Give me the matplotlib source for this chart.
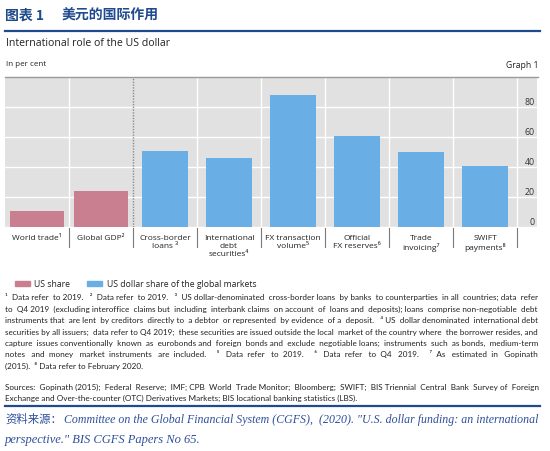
import matplotlib
matplotlib.use('Agg')
import matplotlib.pyplot as plt
from matplotlib.patches import Rectangle
from matplotlib.lines import Line2D
from matplotlib.transforms import blended_transform_factory

# -------- data ---------------------------------------------------
categories = ['World trade\u00b9', 'Global GDP\u00b2', 'Cross-border\nloans \u00b3',
              'International\ndebt\nsecurities\u2074', 'FX transaction\nvolume\u2075',
              'Official\nFX reserves\u2076', 'Trade\ninvoicing\u2077', 'SWIFT\npayments\u2078']
us_share = [11, 24]                               # World trade, Global GDP
usd_share = [51, 46, 88, 61, 50, 41]              # the six market categories
y_ticks = [0, 20, 40, 60, 80]

footnotes = [
    '\u00b9 Data refer to 2019.  \u00b2 Data refer to 2019.  \u00b3 US dollar-denominated cross-border loans by banks to counterparties in all countries; data refer',
    'to Q4 2019 (excluding interoffice claims but including interbank claims on account of loans and deposits); loans comprise non-negotiable debt',
    'instruments that are lent by creditors directly to a debtor or represented by evidence of a deposit.  \u2074 US dollar denominated international debt',
    'securities by all issuers; data refer to Q4 2019; these securities are issued outside the local market of the country where the borrower resides, and',
    'capture issues conventionally known as eurobonds and foreign bonds and exclude negotiable loans; instruments such as bonds, medium-term',
    'notes and money market instruments are included.  \u2075 Data refer to 2019.  \u2076 Data refer to Q4 2019.  \u2077 As estimated in Gopinath',
    '(2015).  \u2078 Data refer to February 2020.',
]
sources = [
    'Sources: Gopinath (2015); Federal Reserve; IMF; CPB World Trade Monitor; Bloomberg; SWIFT; BIS Triennial Central Bank Survey of Foreign',
    'Exchange and Over-the-counter (OTC) Derivatives Markets; BIS locational banking statistics (LBS).',
]
ref_line1 = 'Committee on the Global Financial System (CGFS), (2020). "U.S. dollar funding: an international'
ref_line2 = 'perspective." BIS CGFS Papers No 65.'

# colours
pink = '#c97f8f'
blue = '#6aaee6'
navy = '#1f4a8e'
ref_blue = '#2d4f9c'
chart_font = ['Open Sans', 'DejaVu Sans']
note_font = ['Lato', 'DejaVu Sans']

W, H = 550, 452
fig = plt.figure(figsize=(W / 100, H / 100), dpi=100)
fig.patch.set_facecolor('white')


def fx(px):
    return px / W


def fy(px):
    return 1 - px / H


def hline(y, x0, x1, color, lw):
    fig.add_artist(Line2D([fx(x0), fx(x1)], [fy(y), fy(y)], color=color, lw=lw,
                          transform=fig.transFigure))


renderer = fig.canvas.get_renderer()


def width_of(s, **kw):
    t = fig.text(0, 0, s, **kw)
    w = t.get_window_extent(renderer).width
    t.remove()
    return w


def justify(line, y, x0, x1, size, **kw):
    # pad the gaps of one line with extra spaces so it roughly fills x0..x1
    avail = x1 - x0
    natural = width_of(line, fontsize=size, **kw)
    if natural > avail:
        size *= avail / natural * 0.995
        natural = width_of(line, fontsize=size, **kw)
    sp = width_of('a a', fontsize=size, **kw) - width_of('aa', fontsize=size, **kw)
    parts = line.split(' ')
    n_gaps = len(parts) - 1
    n_add = int(round((avail - natural) / sp))
    out = parts[0]
    done = 0
    for i in range(1, len(parts)):
        want = int(round(n_add * i / n_gaps))
        out += ' ' * (1 + want - done) + parts[i]
        done = want
    fig.text(fx(x0), fy(y), out, va='baseline', ha='left', fontsize=size, **kw)


# -------- header -------------------------------------------------
fig.text(fx(5), fy(16), '图表 1', fontsize=10, fontweight='bold', color=navy,
         family=['Noto Sans CJK SC', 'DejaVu Sans'], va='center')
fig.text(fx(62), fy(16), '美元的国际作用', fontsize=10, fontweight='bold', color=navy,
         family=['Noto Sans CJK SC', 'DejaVu Sans'], va='center')
hline(32.3, 5, 540, navy, 1.6)

fig.text(fx(6), fy(44), 'International role of the US dollar', fontsize=7.6,
         color='#222222', family=chart_font, va='center')
fig.text(fx(6), fy(65), 'In per cent', fontsize=5.8, color='#222222', family=chart_font, va='center')
fig.text(fx(538), fy(65), 'Graph 1', fontsize=6.2, color='#222222', family=chart_font,
         va='center', ha='right')
hline(77.8, 5, 538, '#9a9a9a', 1.0)

# -------- chart --------------------------------------------------
ax = fig.add_axes([fx(5), fy(228.3), 532 / W, 150 / H])
ax.set_facecolor('#e1e1e1')
for s in ax.spines.values():
    s.set_visible(False)

ax.bar(range(len(us_share)), us_share, width=0.84, color=pink, zorder=3)
ax.bar(range(len(us_share), len(categories)), usd_share, width=0.72, color=blue, zorder=3)

ax.set_xlim(-0.5, 7.8125)
ax.set_ylim(0, 100)
ax.set_yticks(y_ticks)
ax.set_xticks([])
ax.tick_params(left=False, right=False, labelleft=False, labelright=False)
ax.grid(axis='y', color='white', lw=1.0, zorder=1)

for k in range(len(categories)):
    sep = k + 0.5
    if k == 1:
        ax.axvline(sep, color='#8a8a8a', lw=1.0, ls=(0, (1, 1)), zorder=2)
    else:
        ax.axvline(sep, color='white', lw=1.0, zorder=1)
    # small separator below the axis
    ax.plot([sep, sep], [-0.005, -0.133], color='#7a7a7a', lw=0.8, clip_on=False,
            transform=blended_transform_factory(ax.transData, ax.transAxes))

ytr = blended_transform_factory(ax.transAxes, ax.transData)
for v in y_ticks:
    ax.text(0.996, v + 3.7, str(v), transform=ytr, ha='right', va='center',
            fontsize=6.3, color='#333333', family=chart_font)

xtr = blended_transform_factory(ax.transData, ax.transAxes)
for i, lab in enumerate(categories):
    ax.text(i, -0.045, lab, transform=xtr, ha='center', va='top', multialignment='center',
            fontsize=6, linespacing=1.15, color='#222222', family=chart_font)

# -------- legend -------------------------------------------------
fig.add_artist(Rectangle((fx(15), fy(287)), 15 / W, 5 / H, color=pink, transform=fig.transFigure))
fig.text(fx(34), fy(284.5), 'US share', fontsize=6.2, color='#222222', family=chart_font, va='center')
fig.add_artist(Rectangle((fx(87), fy(287)), 15 / W, 5 / H, color=blue, transform=fig.transFigure))
fig.text(fx(107), fy(284.5), 'US dollar share of the global markets', fontsize=6.2,
         color='#222222', family=chart_font, va='center')

# -------- footnotes ----------------------------------------------
note_size = 5.9
note_kw = dict(family=note_font, color='#222222')
y = 300.0
for line in footnotes[:-1]:
    justify(line, y, 5, 538, note_size, **note_kw)
    y += 11.5
fig.text(fx(5), fy(y), footnotes[-1], va='baseline', fontsize=note_size, **note_kw)

justify(sources[0], 389.8, 5, 538, note_size, **note_kw)
fig.text(fx(5), fy(400.5), sources[1], va='baseline', fontsize=note_size, **note_kw)

hline(407.3, 5, 540, navy, 1.6)

# -------- reference ----------------------------------------------
pre = fig.text(fx(5), fy(423), '资料来源：', fontsize=8.2, color=ref_blue,
               family=['Noto Sans CJK SC', 'DejaVu Sans'], va='baseline')
pre_w = pre.get_window_extent(renderer).width
ref_kw = dict(family=['Liberation Serif', 'DejaVu Serif'], style='italic', color=ref_blue)
justify(ref_line1, 423, 5 + pre_w + 2, 538, 9.0, **ref_kw)
fig.text(fx(5), fy(443), ref_line2, va='baseline', fontsize=9.0, **ref_kw)

fig.savefig('out.png', dpi=100, facecolor='white')
